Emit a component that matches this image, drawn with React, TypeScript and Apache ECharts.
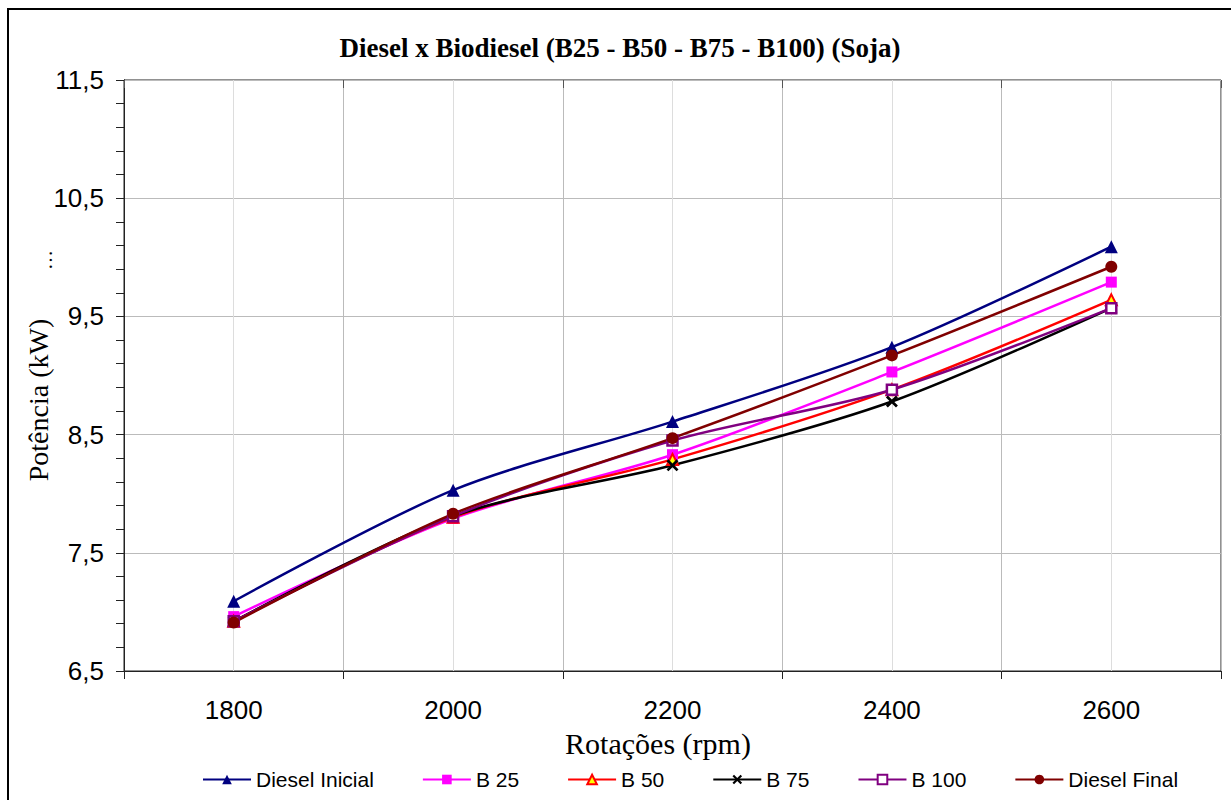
import React, { useEffect, useRef } from "react";
import * as echarts from "echarts";

const categories = ["1800", "2000", "2200", "2400", "2600"];
const dieselInicial = [7.09, 8.03, 8.61, 9.24, 10.09];
const b25 = [6.96, 7.79, 8.33, 9.03, 9.79];
const b50 = [6.92, 7.8, 8.29, 8.88, 9.64];
const b75 = [6.92, 7.81, 8.24, 8.78, 9.57];
const b100 = [6.92, 7.81, 8.45, 8.88, 9.57];
const dieselFinal = [6.91, 7.83, 8.47, 9.17, 9.92];

const titleText = "Diesel x Biodiesel (B25 - B50 - B75 - B100) (Soja)";
const xTitle = "Rotações (rpm)";
const yTitle = "Potência (kW)";

const SANS = "'Liberation Sans', Arial, sans-serif";
const SERIF = "'Liberation Serif', 'Times New Roman', serif";
const X_SYMBOL =
  "path://M0,1.6L1.6,0L5,3.4L8.4,0L10,1.6L6.6,5L10,8.4L8.4,10L5,6.6L1.6,10L0,8.4L3.4,5Z";

export default function App() {
  const ref = useRef<HTMLDivElement>(null);
  useEffect(() => {
    if (!ref.current) return;
    const chart = echarts.init(ref.current, null, { renderer: "svg" });
    const grid = { left: 124, right: 10, top: 80, bottom: 129 };
    const mk = (
      name: string,
      data: number[],
      color: string,
      symbol: string,
      size: number,
      itemStyle: any
    ) => ({
      name,
      type: "line",
      data,
      smooth: 0.3,
      symbol,
      symbolSize: size,
      lineStyle: { color, width: 2.5 },
      itemStyle,
      xAxisIndex: 0,
      yAxisIndex: 0,
      z: 3,
    });
    chart.setOption({
      animation: false,
      backgroundColor: "#fff",
      grid: { ...grid, show: true, borderColor: "#222", borderWidth: 1, backgroundColor: "#fff" },
      legend: {
        top: 764,
        left: 197,
        itemWidth: 48,
        itemHeight: 12,
        itemGap: 48,
        textStyle: { fontFamily: SANS, fontSize: 21, color: "#000" },
        data: ["Diesel Inicial", "B 25", "B 50", "B 75", "B 100", "Diesel Final"],
      },
      xAxis: [
        {
          type: "category",
          data: categories,
          boundaryGap: true,
          axisLine: { lineStyle: { color: "#222", width: 1 } },
          axisTick: { show: true, length: 8, lineStyle: { color: "#222" } },
          axisLabel: { fontFamily: SANS, fontSize: 26, color: "#000", margin: 26 },
          splitLine: { show: false },
        },
        {
          type: "category",
          data: categories,
          boundaryGap: true,
          axisLine: { show: false },
          axisTick: { show: true, inside: true, length: 8, lineStyle: { color: "#555" } },
          axisLabel: { show: false },
          splitLine: { show: false },
        },
        {
          type: "value",
          min: 1700,
          max: 2700,
          interval: 100,
          axisLine: { show: false },
          axisTick: { show: false },
          axisLabel: { show: false },
          splitLine: { show: true, lineStyle: { color: ["#bbbbbb", "#dddddd"], width: 1 } },
        },
      ],
      yAxis: [
        {
          type: "value",
          position: "left",
          min: 6.5,
          max: 11.5,
          interval: 0.5,
          axisLine: { show: true, lineStyle: { color: "#222", width: 1 } },
          axisTick: { show: false },
          axisLabel: {
            fontFamily: SANS,
            fontSize: 26,
            color: "#000",
            margin: 20,
            formatter: (v: number) => {
              const r = Math.abs(((v - 6.5) % 1 + 1) % 1);
              if (r > 1e-6 && r < 1 - 1e-6) return "";
              return v.toFixed(1).replace(".", ",");
            },
          },
          splitLine: { show: true, lineStyle: { color: ["#bbbbbb", "rgba(0,0,0,0)"], width: 1 } },
        },
        {
          type: "value",
          position: "left",
          offset: 0,
          min: 0,
          max: 25,
          interval: 1,
          axisLine: { show: true, lineStyle: { color: "#222", width: 1 } },
          axisTick: { show: true, length: 8, lineStyle: { color: "#222" } },
          axisLabel: { show: false },
          splitLine: { show: false },
        },
      ],
      graphic: [
        {
          type: "rect",
          shape: { x: 8, y: 9, width: 1240, height: 820 },
          style: { fill: "none", stroke: "#000", lineWidth: 2 },
          silent: true,
          z: -10,
        },
        {
          type: "text",
          x: 620,
          y: 48,
          style: {
            text: titleText,
            font: `bold 27px ${SERIF}`,
            fill: "#000",
            align: "center",
            verticalAlign: "middle",
          },
        },
        {
          type: "text",
          x: 658,
          y: 743,
          style: {
            text: xTitle,
            font: `30px ${SERIF}`,
            fill: "#000",
            align: "center",
            verticalAlign: "middle",
          },
        },
        {
          type: "text",
          x: 38,
          y: 400,
          rotation: Math.PI / 2,
          style: {
            text: yTitle,
            font: `28px ${SERIF}`,
            fill: "#000",
            align: "center",
            verticalAlign: "middle",
          },
        },
        {
          type: "text",
          x: 45,
          y: 260,
          rotation: Math.PI / 2,
          style: {
            text: "…",
            font: `20px ${SERIF}`,
            fill: "#000",
            align: "center",
            verticalAlign: "middle",
          },
        },
      ],
      series: [
        mk("Diesel Inicial", dieselInicial, "#000080", "triangle", 13, { color: "#000080" }),
        mk("B 25", b25, "#FF00FF", "rect", 11, { color: "#FF00FF" }),
        mk("B 50", b50, "#FF0000", "triangle", 11, {
          color: "#FFFF00",
          borderColor: "#FF0000",
          borderWidth: 2,
        }),
        mk("B 75", b75, "#000000", X_SYMBOL, 12, { color: "#000000" }),
        mk("B 100", b100, "#800080", "rect", 10, {
          color: "#ffffff",
          borderColor: "#800080",
          borderWidth: 2.5,
        }),
        mk("Diesel Final", dieselFinal, "#800000", "circle", 12, { color: "#800000" }),
      ],
    });
    return () => chart.dispose();
  }, []);
  return (
    <div
      ref={ref}
      style={{ position: "absolute", left: 0, top: 0, width: 1231, height: 800 }}
    />
  );
}
